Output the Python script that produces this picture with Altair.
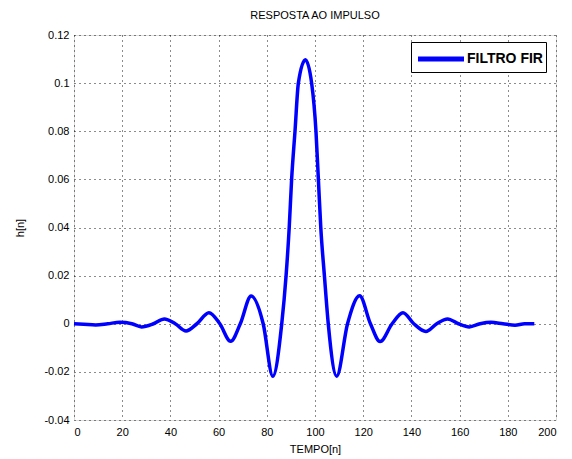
import altair as alt
import pandas as pd

# sample index (TEMPO[n]) and impulse response h[n]
n_vals = [0, 4, 9, 14, 19, 24, 28, 33, 37.5, 42, 46.5, 51, 56, 60.5, 65, 69,
          73.5, 78.5, 82.5, 86.2, 88, 89.3, 90.3, 91.7, 93.1, 96, 98.6, 100.4,
          101.4, 102.4, 103.9, 105.5, 109, 113.5, 118.5, 123, 127, 132, 136.5,
          141, 146, 150.5, 155, 159.5, 164, 168.5, 173, 178, 183, 187, 191]
h_vals = [0, -0.0002, -0.0005, 0, 0.0006, 0, -0.0013, 0, 0.002, 0, -0.003, 0,
          0.0046, 0, -0.0073, 0, 0.0115, 0, -0.0218, 0, 0.02, 0.04, 0.06, 0.08,
          0.1, 0.1097, 0.1, 0.08, 0.06, 0.04, 0.02, 0, -0.0218, 0, 0.0116, 0,
          -0.0074, 0, 0.0046, 0, -0.0032, 0, 0.002, 0, -0.0013, 0, 0.0006, 0,
          -0.0006, 0, 0]
series_name = "FILTRO FIR"
x_ticks = [0, 20, 40, 60, 80, 100, 120, 140, 160, 180, 200]
y_ticks = [-0.04, -0.02, 0, 0.02, 0.04, 0.06, 0.08, 0.1, 0.12]

df = pd.DataFrame({"n": n_vals, "h": h_vals, "serie": series_name})

FONT = "Liberation Sans"
lbl = "replace(format(datum.value, '~g'), '\u2212', '-')"

chart = alt.Chart(df).mark_line(strokeWidth=3.5, interpolate="monotone").encode(
    x=alt.X("n:Q",
            scale=alt.Scale(domain=[0, 200], nice=False, zero=False),
            axis=alt.Axis(title="TEMPO[n]", values=x_ticks, labelExpr=lbl,
                          grid=True, gridDash=[1, 4], gridColor="#000000",
                          gridOpacity=0.9, domain=False, ticks=False,
                          labelFont=FONT, labelFontSize=11, labelColor="#000",
                          labelPadding=6, titleFont=FONT, titleFontSize=11,
                          titleFontWeight="normal", titleColor="#000",
                          titlePadding=6)),
    y=alt.Y("h:Q",
            scale=alt.Scale(domain=[-0.04, 0.12], nice=False, zero=False),
            axis=alt.Axis(title="h[n]", values=y_ticks, labelExpr=lbl,
                          grid=True, gridDash=[1, 4], gridColor="#000000",
                          gridOpacity=0.9, domain=False, ticks=False,
                          labelFont=FONT, labelFontSize=11, labelColor="#000",
                          labelPadding=5, titleFont=FONT, titleFontSize=11,
                          titleFontWeight="normal", titleColor="#000",
                          titlePadding=18)),
    color=alt.Color("serie:N",
                    scale=alt.Scale(domain=[series_name], range=["#0000ff"]),
                    legend=alt.Legend(title=None, orient="none", legendX=337,
                                      legendY=7, symbolType="M-2,0H2",
                                      symbolSize=529, symbolStrokeWidth=5,
                                      symbolOffset=13, labelOffset=12,
                                      labelFont=FONT, labelFontSize=14,
                                      labelFontWeight="bold", labelColor="#000",
                                      strokeColor="#000", fillColor="#fff",
                                      padding=3, labelLimit=200)),
).properties(
    width=482, height=385,
    title=alt.TitleParams("RESPOSTA AO IMPULSO", font=FONT, fontSize=11,
                          fontWeight="normal", color="#000", offset=8,
                          anchor="middle"),
    autosize=alt.AutoSizeParams(type="none"),
    padding={"left": 74, "top": 35, "right": 16, "bottom": 39},
).configure_view(stroke="#000", strokeWidth=1.5).configure(background="#fff")

chart.save("out.html", embed_options={"renderer": "svg", "actions": False})
